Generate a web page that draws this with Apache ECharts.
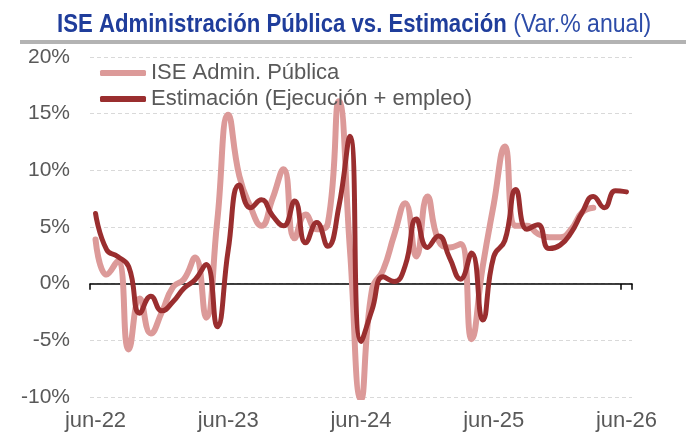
<!DOCTYPE html>
<html>
<head>
<meta charset="utf-8">
<script src="https://cdn.jsdelivr.net/npm/echarts@6/dist/echarts.min.js"></script>
<style>
  html, body { margin: 0; padding: 0; background: #fff; }
  #chart { width: 700px; height: 440px; }
</style>
</head>
<body>
<div id="chart"></div>
<script>
// meses jun-22 .. jun-26
const months = [
  'jun-22', 'jul-22', 'ago-22', 'sep-22', 'oct-22', 'nov-22', 'dic-22',
  'ene-23', 'feb-23', 'mar-23', 'abr-23', 'may-23', 'jun-23', 'jul-23', 'ago-23', 'sep-23', 'oct-23', 'nov-23', 'dic-23',
  'ene-24', 'feb-24', 'mar-24', 'abr-24', 'may-24', 'jun-24', 'jul-24', 'ago-24', 'sep-24', 'oct-24', 'nov-24', 'dic-24',
  'ene-25', 'feb-25', 'mar-25', 'abr-25', 'may-25', 'jun-25', 'jul-25', 'ago-25', 'sep-25', 'oct-25', 'nov-25', 'dic-25',
  'ene-26', 'feb-26', 'mar-26', 'abr-26', 'may-26', 'jun-26'
]

// ISE Admin. Pública (var. % anual)
const iseAdmin = [
  3.9, 0.8, 2.0, -5.8, -1.3, -4.4, -2.5,
  -0.3, 0.4, 2.3, -3.0, 5.5, 14.9, 9.5, 6.8, 5.1, 7.5, 10.1, 4.0,
  6.1, 4.8, 5.3, 16.1, 3.0, -10.2, -0.5, 1.2, 4.3, 7.1, 2.4, 7.7,
  3.8, 3.2, 3.5, -4.9, 1.5, 7.0, 12.1, 5.1, 5.1, 4.4, 4.1, 4.1,
  4.8, 6.3, 6.7
]

// Estimación (Ejecución + empleo)
const estimacion = [
  6.2, 3.0, 2.4, 1.5, -2.6, -1.1, -2.4,
  -1.6, -0.4, 0.35, 1.7, -3.8, 3.0, 8.7, 6.7, 7.4, 6.0, 5.1, 7.3,
  3.6, 5.4, 3.3, 6.8, 13.0, -5.1, -2.3, 0.6, 0.2, 1.6, 5.7, 3.2,
  4.2, 2.3, 0.4, 2.7, -3.2, 2.4, 3.8, 8.3, 4.8, 5.2, 3.1, 3.4,
  4.5, 6.3, 7.7, 6.7, 8.2, 8.1
]

const legendNames = ['ISE Admin. Pública', 'Estimación (Ejecución + empleo)']

const textGray = '#595959'
const chart = echarts.init(document.getElementById('chart'))

chart.setOption({
  animation: false,
  graphic: [
    { // titulo (estrechado como Arial Narrow)
      type: 'text',
      x: 57,
      y: 25,
      scaleX: 0.887,
      silent: true,
      style: {
        text: '{b|ISE Administración Pública vs. Estimación}{n| (Var.% anual)}',
        verticalAlign: 'middle',
        rich: {
          b: { fontFamily: 'Liberation Sans', fontWeight: 'bold', fontSize: 25, fill: '#1f3d9b' },
          n: { fontFamily: 'Liberation Sans', fontSize: 26, fill: '#2d4ca8' }
        }
      }
    },
    { type: 'rect', shape: { x: 20, y: 40, width: 666, height: 4 }, style: { fill: '#b3b3b3' }, silent: true }
  ],
  legend: {
    data: legendNames,
    orient: 'vertical',
    left: 95,
    top: 57,
    itemWidth: 46,
    itemHeight: 6,
    itemGap: 4,
    icon: 'roundRect',
    selectedMode: false,
    textStyle: { color: textGray, fontSize: 22, fontFamily: 'Liberation Sans' }
  },
  grid: {
    left: 90,
    right: 68,
    top: 57,
    bottom: 43
  },
  xAxis: [
    { // etiquetas abajo
      type: 'category',
      data: months,
      boundaryGap: true,
      position: 'bottom',
      axisLine: { show: false, onZero: false },
      axisTick: { show: false },
      axisLabel: {
        interval: 11,
        color: textGray,
        fontSize: 22,
        fontFamily: 'Liberation Sans',
        margin: 13
      },
      splitLine: { show: false }
    },
    { // eje en cero
      type: 'category',
      data: months,
      boundaryGap: true,
      position: 'bottom',
      axisLine: { show: true, onZero: true, lineStyle: { color: '#000', width: 1.5 } },
      axisTick: { show: true, interval: 11, length: 6, lineStyle: { color: '#000', width: 1.5 } },
      axisLabel: { show: false },
      splitLine: { show: false }
    }
  ],
  yAxis: {
    type: 'value',
    min: -10,
    max: 20,
    interval: 5,
    axisLine: { show: false },
    axisTick: { show: false },
    axisLabel: {
      formatter: '{value}%',
      color: textGray,
      fontSize: 21,
      fontFamily: 'Liberation Sans',
      margin: 20
    },
    splitLine: {
      show: true,
      lineStyle: { color: '#d9d9d9', type: [4, 3], width: 1 }
    }
  },
  series: [
    {
      name: legendNames[0],
      type: 'line',
      data: iseAdmin,
      smooth: 0.5,
      showSymbol: false,
      symbol: 'none',
      itemStyle: { color: '#dc9a99' },
      lineStyle: { color: '#dc9a99', width: 6, cap: 'round', join: 'round' },
      z: 2
    },
    {
      name: legendNames[1],
      type: 'line',
      data: estimacion,
      smooth: 0.5,
      showSymbol: false,
      symbol: 'none',
      itemStyle: { color: '#9a2e2f' },
      lineStyle: { color: '#9a2e2f', width: 5, cap: 'round', join: 'round' },
      z: 3
    }
  ]
})
</script>
</body>
</html>
